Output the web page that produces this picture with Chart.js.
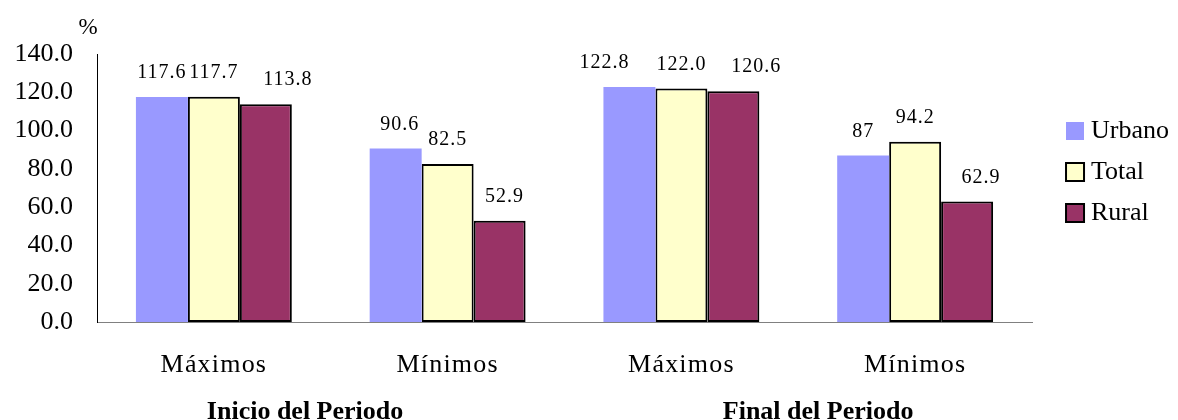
<!DOCTYPE html>
<html>
<head>
<meta charset="utf-8">
<script src="https://cdn.jsdelivr.net/npm/chart.js@4.4.1/dist/chart.umd.min.js"></script>
<style>
  html, body { margin: 0; padding: 0; background: #ffffff; }
  #wrap { width: 1178px; height: 420px; }
</style>
</head>
<body>
<div id="wrap"><canvas id="c" width="1178" height="420"></canvas></div>
<script>
// Categories and series (values kept as the strings printed above the bars)
const categories = ['Máximos', 'Mínimos', 'Máximos', 'Mínimos'];
const periods = ['Inicio del Periodo', 'Final del Periodo'];
const urbano = ['117.6', '90.6', '122.8', '87'];
const total = ['117.7', '82.5', '122.0', '94.2'];
const rural = ['113.8', '52.9', '120.6', '62.9'];
const yTickLabels = ['0.0', '20.0', '40.0', '60.0', '80.0', '100.0', '120.0', '140.0'];
const unitLabel = '%';

const SERIF = '"Liberation Serif", "Times New Roman", Times, serif';
Chart.defaults.font.family = SERIF;
Chart.defaults.color = '#000000';

// value labels above each bar
const valueLabels = {
  id: 'valueLabels',
  afterDatasetsDraw(chart) {
    const ctx = chart.ctx;
    ctx.save();
    ctx.font = '20px ' + SERIF;
    ctx.letterSpacing = '1px';
    ctx.fillStyle = '#000';
    ctx.textAlign = 'center';
    ctx.textBaseline = 'middle';
    chart.data.datasets.forEach((ds, i) => {
      const meta = chart.getDatasetMeta(i);
      meta.data.forEach((bar, j) => {
        const nudge = (ds.labelNudge && ds.labelNudge[j]) || 0;
        ctx.fillText(ds.text[j], bar.x + nudge, bar.y - 24);
      });
    });
    ctx.restore();
  }
};

// unit marker and period captions under the category labels
const captions = {
  id: 'captions',
  afterDraw(chart) {
    const ctx = chart.ctx;
    const xs = chart.scales.x;
    ctx.save();
    ctx.fillStyle = '#000';
    ctx.textAlign = 'center';
    ctx.textBaseline = 'middle';
    ctx.font = '23px ' + SERIF;
    ctx.fillText(unitLabel, chart.chartArea.left - 9, chart.chartArea.top - 26);
    ctx.font = 'bold 26px ' + SERIF;
    ctx.fillText(periods[0], xs.getPixelForValue(0.39), 412);
    ctx.fillText(periods[1], xs.getPixelForValue(2.585), 412);
    ctx.restore();
  }
};

// spaced category labels and legend placement
const layoutTweaks = {
  id: 'layoutTweaks',
  afterLayout(chart) {
    const xs = chart.scales.x;
    if (!xs._spaced) {
      const orig = xs.drawLabels;
      xs.drawLabels = function (area) {
        const c = this.ctx;
        c.save();
        c.letterSpacing = '1.2px';
        orig.call(this, area);
        c.restore();
      };
      xs._spaced = true;
    }
    const lg = chart.legend;
    const dx = chart.chartArea.right + 25 - lg.left;
    lg.left += dx; lg.right += dx;
    lg.top -= 65; lg.bottom -= 65;
  }
};

new Chart(document.getElementById('c'), {
  type: 'bar',
  data: {
    labels: categories,
    datasets: [
      {
        label: 'Urbano',
        data: urbano.map(Number),
        text: urbano,
        labelNudge: [0, 4, -25, 0],
        backgroundColor: '#9999FF',
        borderColor: '#9999FF',
        borderWidth: 0
      },
      {
        label: 'Total',
        data: total.map(Number),
        text: total,
        labelNudge: [0, 0, 0, 0],
        backgroundColor: '#FFFFCC',
        borderColor: '#000000',
        borderWidth: 2,
        borderSkipped: false
      },
      {
        label: 'Rural',
        data: rural.map(Number),
        text: rural,
        labelNudge: [22, 5, 23, 14],
        backgroundColor: '#993366',
        borderColor: '#000000',
        borderWidth: 2,
        borderSkipped: false
      }
    ]
  },
  options: {
    responsive: false,
    animation: false,
    devicePixelRatio: 1,
    categoryPercentage: 0.667,
    barPercentage: 1.0,
    layout: { padding: { top: 54, right: 24, bottom: 0, left: 0 } },
    scales: {
      x: {
        grid: { display: false, drawTicks: false },
        border: { color: '#808080', width: 1 },
        ticks: { font: { size: 26 }, color: '#000', padding: 28, maxRotation: 0 },
        afterFit(s) { s.height = 98; }
      },
      y: {
        min: 0,
        max: 140,
        grid: { display: false, drawTicks: false },
        border: { color: '#000000', width: 1 },
        ticks: {
          stepSize: 20,
          font: { size: 26 },
          color: '#000',
          padding: 24,
          callback: (v, i) => yTickLabels[i]
        },
        afterFit(s) { s.width = 97; }
      }
    },
    plugins: {
      legend: {
        position: 'right',
        labels: {
          usePointStyle: true,
          pointStyle: 'rect',
          boxWidth: 6,
          boxHeight: 18,
          padding: 15,
          color: '#000',
          font: { size: 26 }
        }
      },
      tooltip: { enabled: false }
    }
  },
  plugins: [valueLabels, captions, layoutTweaks]
});
</script>
</body>
</html>
